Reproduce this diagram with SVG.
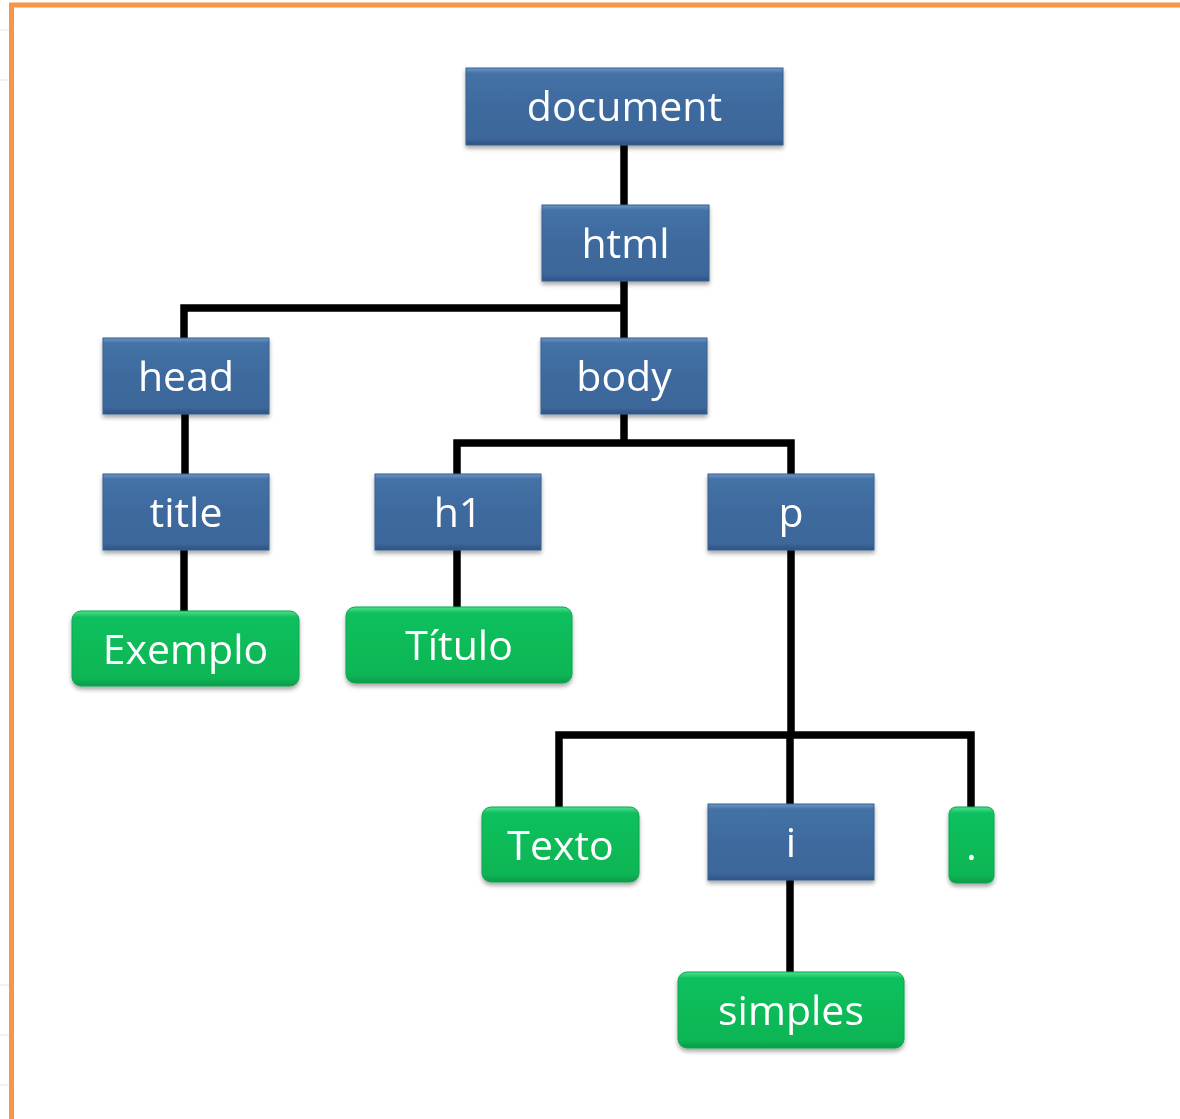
<svg xmlns="http://www.w3.org/2000/svg" width="1180" height="1119" viewBox="0 0 1180 1119">
<style>
.blue{fill:url(#gb);stroke:#35608F;stroke-width:1}
.green{fill:url(#gg);stroke:#0AA650;stroke-width:1}
.t{font-family:"Open Sans","Liberation Sans",sans-serif;font-size:41px;fill:#fff;text-anchor:middle}
.c{fill:none;stroke:#000;stroke-width:7.5;stroke-linejoin:miter}
.grid{stroke:#E6E6E6;stroke-width:1}
</style>
<defs>
<linearGradient id="gb" x1="0" y1="0" x2="0" y2="1">
<stop offset="0" stop-color="#6E95C6"/>
<stop offset="0.07" stop-color="#4472A6"/>
<stop offset="0.5" stop-color="#3E6A9E"/>
<stop offset="0.92" stop-color="#3C669A"/>
<stop offset="1" stop-color="#2C5282"/>
</linearGradient>
<linearGradient id="gg" x1="0" y1="0" x2="0" y2="1">
<stop offset="0" stop-color="#4FE08F"/>
<stop offset="0.08" stop-color="#10C05E"/>
<stop offset="0.5" stop-color="#0ABB58"/>
<stop offset="0.9" stop-color="#09B555"/>
<stop offset="1" stop-color="#089A48"/>
</linearGradient>
<filter id="sh" x="-10%" y="-10%" width="120%" height="130%">
<feDropShadow dx="0" dy="3" stdDeviation="2" flood-color="#000" flood-opacity="0.35"/>
</filter>
</defs>
<rect width="1180" height="1119" fill="#fff"/>
<g id="background-grid">
<line class="grid" x1="0" y1="30" x2="9" y2="30"/>
<line class="grid" x1="0" y1="80" x2="9" y2="80"/>
<line class="grid" x1="0" y1="985" x2="9" y2="985"/>
<line class="grid" x1="0" y1="1035" x2="9" y2="1035"/>
<line class="grid" x1="0" y1="1085" x2="9" y2="1085"/>
</g>
<g id="frame">
<path d="M11.5 1119 V5 H1180" fill="none" stroke="#F79646" stroke-width="5"/>
</g>
<g id="connectors">
<path class="c" d="M624 145 V205"/>
<path class="c" d="M624 281 V338 M624 308 H184 V338"/>
<path class="c" d="M185 414 V474"/>
<path class="c" d="M624 414 V443 M457 474 V443 H791 V474"/>
<path class="c" d="M184 550 V611"/>
<path class="c" d="M457 550 V607"/>
<path class="c" d="M791 550 V735 M559 807 V735 H971 V807 M790 735 V804"/>
<path class="c" d="M790 880 V972"/>
</g>
<g id="node-document" filter="url(#sh)"><rect class="blue" x="466" y="68" width="317" height="77"/><text class="t" x="624.5" y="121">document</text></g>
<g id="node-html" filter="url(#sh)"><rect class="blue" x="542" y="205" width="167" height="76"/><text class="t" x="625.5" y="258">html</text></g>
<g id="node-head" filter="url(#sh)"><rect class="blue" x="103" y="338" width="166" height="76"/><text class="t" x="186" y="391">head</text></g>
<g id="node-body" filter="url(#sh)"><rect class="blue" x="541" y="338" width="166" height="76"/><text class="t" x="624" y="391">body</text></g>
<g id="node-title" filter="url(#sh)"><rect class="blue" x="103" y="474" width="166" height="76"/><text class="t" x="186" y="527">title</text></g>
<g id="node-h1" filter="url(#sh)"><rect class="blue" x="375" y="474" width="166" height="76"/><text class="t" x="458" y="527">h1</text></g>
<g id="node-p" filter="url(#sh)"><rect class="blue" x="708" y="474" width="166" height="76"/><text class="t" x="791" y="527">p</text></g>
<g id="node-exemplo" filter="url(#sh)"><rect class="green" x="72" y="611" width="227" height="75" rx="9"/><text class="t" x="185.5" y="664">Exemplo</text></g>
<g id="node-titulo" filter="url(#sh)"><rect class="green" x="346" y="607" width="226" height="76" rx="9"/><text class="t" x="459" y="660">Título</text></g>
<g id="node-texto" filter="url(#sh)"><rect class="green" x="482" y="807" width="157" height="75" rx="9"/><text class="t" x="560.5" y="860">Texto</text></g>
<g id="node-i" filter="url(#sh)"><rect class="blue" x="708" y="804" width="166" height="76"/><text class="t" x="791" y="857">i</text></g>
<g id="node-dot" filter="url(#sh)"><rect class="green" x="949" y="807" width="45" height="76" rx="7"/><text class="t" x="971.5" y="860">.</text></g>
<g id="node-simples" filter="url(#sh)"><rect class="green" x="678" y="972" width="226" height="76" rx="9"/><text class="t" x="791" y="1025">simples</text></g>
</svg>
